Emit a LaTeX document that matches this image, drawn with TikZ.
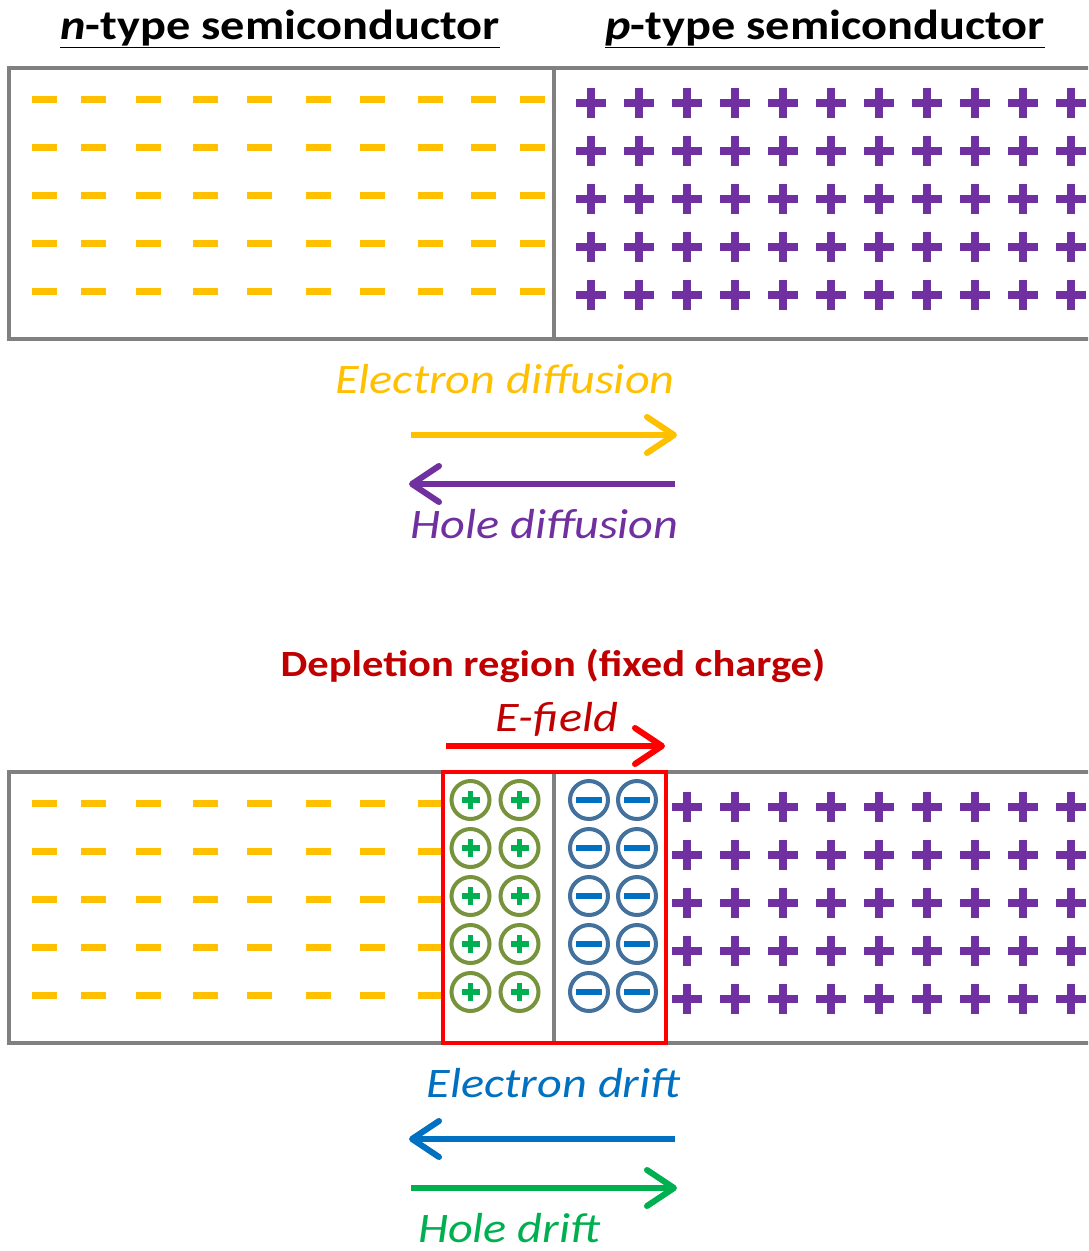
\documentclass[tikz,border=0pt]{standalone}
\usepackage{fontspec}
\setmainfont{Carlito}[FakeStretch=1.15]
\usetikzlibrary{arrows.meta}
\definecolor{dashY}{HTML}{FFC000}
\definecolor{holeP}{HTML}{7030A0}
\definecolor{boxG}{HTML}{808080}
\definecolor{darkR}{HTML}{C00000}
\definecolor{pureR}{HTML}{FF0000}
\definecolor{elB}{HTML}{0070C0}
\definecolor{hoG}{HTML}{00B050}
\definecolor{olive}{HTML}{77933C}
\definecolor{ionB}{HTML}{41719C}
\tikzset{
  semibox/.style={draw=boxG, line width=3.5pt},
  elec/.style={fill=dashY},
  hole/.style={fill=holeP},
  arr/.style={line width=6pt, -{Straight Barb[length=27pt,width=36pt,round]}},
  title/.style={font=\fontsize{42}{46}\selectfont\bfseries, anchor=base, inner sep=0pt},
  lab/.style={font=\fontsize{42}{46}\selectfont\itshape, anchor=base, inner sep=0pt},
  dep/.style={font=\fontsize{37}{41}\selectfont\bfseries, anchor=base, inner sep=0pt, text=darkR},
  posion/.style={draw=olive, line width=4pt},
  negion/.style={draw=ionB, line width=4pt},
}
\begin{document}
\begin{tikzpicture}[x=1pt,y=-1pt]
\useasboundingbox (0,0) rectangle (1088,1251);
\clip (0,0) rectangle (1088,1251);
\fill[white] (0,0) rectangle (1088,1251);

% titles
\node[title] (ntitle) at (280,39) {\underline{\textit{n}-type semiconductor}};
\node[title] (ptitle) at (825,39) {\underline{\textit{p}-type semiconductor}};

% ---------- top box ----------
\draw[semibox] (1100,68) -- (9,68) -- (9,339) -- (1100,339);
\draw[semibox] (554,68) -- (554,339);
\foreach \y in {99,147,195,243,291}{
  \foreach \x in {44.5,93.5,148,205,259,318,372,430,483.5,532}{
    \fill[elec] (\x-12.5,\y-3.5) rectangle (\x+12.5,\y+3.5);
  }
}
\foreach \y in {103,151,199,247,295}{
  \foreach \x in {591,639,687,735,783,831,879,927,975,1023,1071}{
    \fill[hole] (\x-15,\y-4) rectangle (\x+15,\y+4);
    \fill[hole] (\x-4,\y-15) rectangle (\x+4,\y+15);
  }
}

% diffusion labels and arrows
\node[lab, text=dashY] (ediff) at (505,393) {Electron diffusion};
\coordinate (ed1) at (411,435);
\coordinate (ed2) at (677,435);
\draw[arr, dashY] (ed1) -- (ed2);
\coordinate (hd1) at (675,484);
\coordinate (hd2) at (409,484);
\draw[arr, holeP] (hd1) -- (hd2);
\node[lab, text=holeP] (hdiff) at (544.5,538) {Hole diffusion};

% ---------- bottom ----------
\node[dep] (deplab) at (553,676) {Depletion region (fixed charge)};
\node[lab, text=darkR] (efield) at (557,731) {E-field};
\coordinate (ef1) at (446,746);
\coordinate (ef2) at (665,746);
\draw[arr, pureR] (ef1) -- (ef2);

\draw[semibox] (1100,772) -- (9,772) -- (9,1043) -- (1100,1043);
\draw[semibox] (554,772) -- (554,1043);
\foreach \y in {803,851,899,947,995}{
  \foreach \x in {44.5,93.5,148,205,259,318,372,430}{
    \fill[elec] (\x-12.5,\y-3.5) rectangle (\x+12.5,\y+3.5);
  }
}
\foreach \y in {807,855,903,951,999}{
  \foreach \x in {687,735,783,831,879,927,975,1023,1071}{
    \fill[hole] (\x-15,\y-4) rectangle (\x+15,\y+4);
    \fill[hole] (\x-4,\y-15) rectangle (\x+4,\y+15);
  }
}
% fixed ions
\foreach \y in {800,848,896,944,992}{
  \foreach \x in {470.5,519.5}{
    \draw[posion, fill=white] (\x,\y) circle (19);
    \fill[hoG] (\x-9,\y-2.8) rectangle (\x+9,\y+2.8);
    \fill[hoG] (\x-2.8,\y-9) rectangle (\x+2.8,\y+9);
  }
  \foreach \x in {589,637}{
    \draw[negion, fill=white] (\x,\y) circle (19);
    \fill[elB] (\x-13,\y-3.3) rectangle (\x+13,\y+3.3);
  }
}
% depletion box
\draw[pureR, line width=4pt] (443,772) rectangle (666,1043);

% drift labels and arrows
\node[lab, text=elB] (edrift) at (553.5,1097) {Electron drift};
\coordinate (er1) at (675,1139);
\coordinate (er2) at (409,1139);
\draw[arr, elB] (er1) -- (er2);
\coordinate (hr1) at (411,1188);
\coordinate (hr2) at (677,1188);
\draw[arr, hoG] (hr1) -- (hr2);
\node[lab, text=hoG] (hdrift) at (509,1242) {Hole drift};
\end{tikzpicture}
\end{document}
